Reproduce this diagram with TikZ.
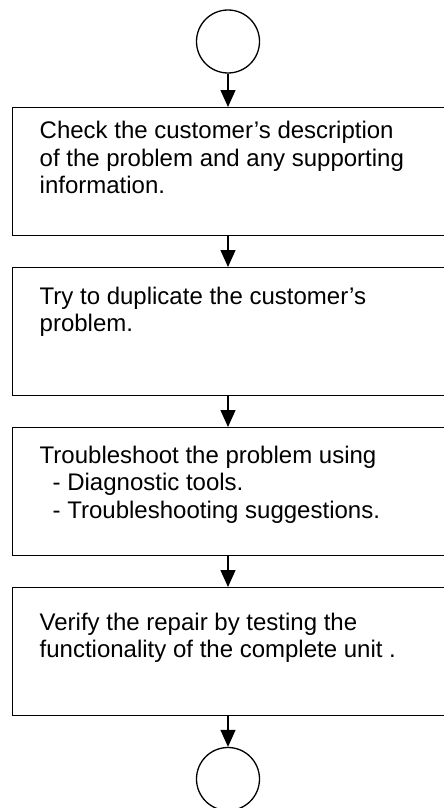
\documentclass[tikz,border=0pt]{standalone}
\usepackage{fontspec}
\setmainfont{Liberation Sans}
\usetikzlibrary{arrows.meta}
\begin{document}
\begin{tikzpicture}[x=1pt,y=1pt,
  box/.style={draw, line width=1.3pt, minimum width=434pt, minimum height=128pt, inner sep=0pt, anchor=north west},
  term/.style={draw, circle, line width=1.3pt, minimum size=63pt, inner sep=0pt},
  txt/.style={anchor=base west, inner sep=0pt, font=\fontsize{24}{27.6}\selectfont},
  arr/.style={line width=1.3pt, -{Triangle[length=17pt,width=15pt]}}]
\useasboundingbox (0,0) rectangle (444,-808);
\node[term] (c1) at (228,-41.5) {};
\node[box] (b1) at (12,-107) {};
\node[box] (b2) at (12,-267) {};
\node[box] (b3) at (12,-427) {};
\node[box] (b4) at (12,-587) {};
\node[term] (c2) at (228,-779) {};
\node[txt] (t1) at (39.5,-138.5) {\vtop{\hbox{Check the customer’s description}\hbox{of the problem and any supporting}\hbox{information.}}};
\node[txt] (t2) at (39.5,-304) {\vtop{\hbox{Try to duplicate the customer’s}\hbox{problem.}}};
\node[txt] (t3) at (39.5,-463) {\vtop{\hbox{Troubleshoot the problem using}\hbox{\hspace{13pt}- Diagnostic tools.}\hbox{\hspace{13pt}- Troubleshooting suggestions.}}};
\node[txt] (t4) at (39.5,-630) {\vtop{\hbox{Verify the repair by testing the}\hbox{functionality of the complete unit .}}};
\draw[arr] (c1.south) -- (c1.south |- b1.north);
\draw[arr] (b1.south -| c1.south) -- (b2.north -| c1.south);
\draw[arr] (b2.south -| c1.south) -- (b3.north -| c1.south);
\draw[arr] (b3.south -| c1.south) -- (b4.north -| c1.south);
\draw[arr] (b4.south -| c2.north) -- (c2.north);
\end{tikzpicture}
\end{document}
